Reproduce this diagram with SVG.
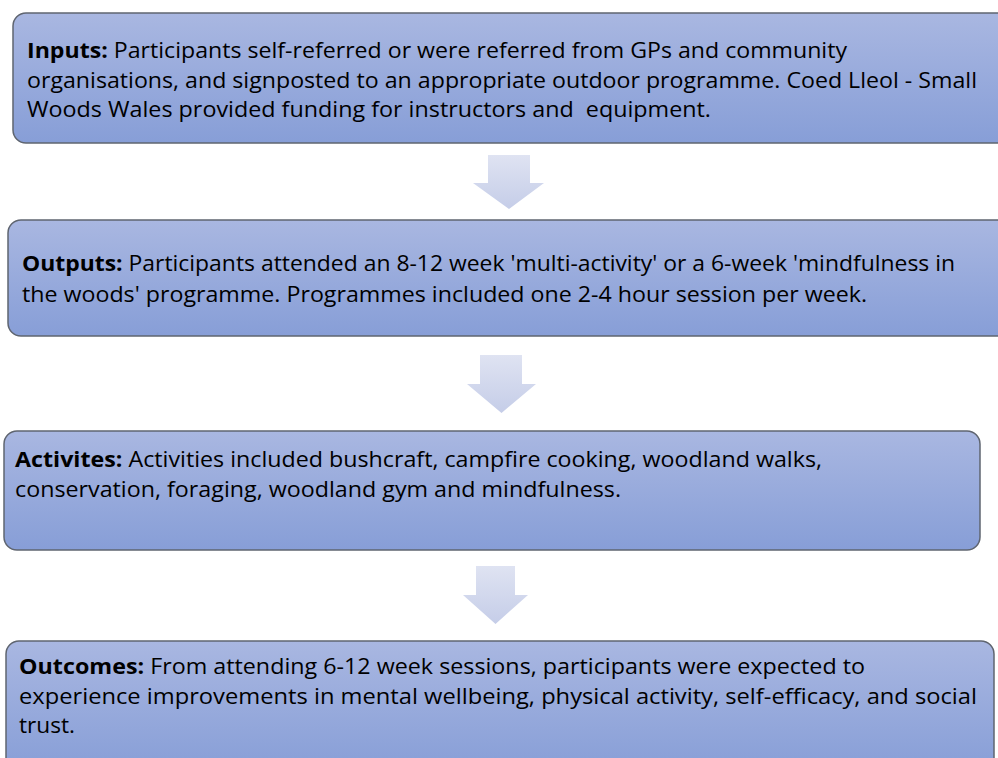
<svg xmlns="http://www.w3.org/2000/svg" width="998" height="758" viewBox="0 0 998 758">
<defs>
<linearGradient id="boxGrad" x1="0" y1="0" x2="0" y2="1">
<stop offset="0" stop-color="#a9b7e1"/>
<stop offset="1" stop-color="#879ed7"/>
</linearGradient>
<linearGradient id="arrGrad" x1="0" y1="0" x2="0" y2="1">
<stop offset="0" stop-color="#dfe3f2"/>
<stop offset="1" stop-color="#c5cde8"/>
</linearGradient>
</defs>
<style>
.box{fill:url(#boxGrad);stroke:#5f6570;stroke-width:1.5}
.arr{fill:url(#arrGrad);stroke:none}
.t{font-family:"Open Sans","Noto Sans",sans-serif;font-size:22px;fill:#000}
.b{font-weight:bold}
</style>
<rect width="998" height="758" fill="#ffffff"/>
<g id="connectors">
<path class="arr" d="M488,155 H530 V183 H544 L509,209 L473,183 H488 Z"/>
<path class="arr" d="M480,355 H522 V384 H536 L501.5,413 L467,384 H480 Z"/>
<path class="arr" d="M476,566 H515 V595 H528 L495.5,624 L463,595 H476 Z"/>
</g>
<g id="inputs">
<rect class="box" x="13" y="13" width="1000" height="130" rx="13"/>
<text class="t" x="27" y="58" textLength="820" lengthAdjust="spacingAndGlyphs"><tspan class="b">Inputs:</tspan> Participants self-referred or were referred from GPs and community</text>
<text class="t" x="27" y="88" textLength="950" lengthAdjust="spacingAndGlyphs">organisations, and signposted to an appropriate outdoor programme. Coed Lleol - Small</text>
<text class="t" x="27" y="117" textLength="684" lengthAdjust="spacingAndGlyphs" xml:space="preserve">Woods Wales provided funding for instructors and  equipment.</text>
</g>
<g id="outputs">
<rect class="box" x="8" y="220" width="1005" height="116" rx="13"/>
<text class="t" x="22" y="271" textLength="933" lengthAdjust="spacingAndGlyphs"><tspan class="b">Outputs:</tspan> Participants attended an 8-12 week 'multi-activity' or a 6-week 'mindfulness in</text>
<text class="t" x="22" y="302" textLength="845" lengthAdjust="spacingAndGlyphs">the woods' programme. Programmes included one 2-4 hour session per week.</text>
</g>
<g id="activities">
<rect class="box" x="4" y="431" width="976" height="119" rx="13"/>
<text class="t" x="15" y="467" textLength="807" lengthAdjust="spacingAndGlyphs"><tspan class="b">Activites:</tspan> Activities included bushcraft, campfire cooking, woodland walks,</text>
<text class="t" x="15" y="497" textLength="606" lengthAdjust="spacingAndGlyphs">conservation, foraging, woodland gym and mindfulness.</text>
</g>
<g id="outcomes">
<rect class="box" x="6" y="641" width="988" height="130" rx="13"/>
<text class="t" x="19" y="674" textLength="846" lengthAdjust="spacingAndGlyphs"><tspan class="b">Outcomes:</tspan> From attending 6-12 week sessions, participants were expected to</text>
<text class="t" x="19" y="704" textLength="958" lengthAdjust="spacingAndGlyphs">experience improvements in mental wellbeing, physical activity, self-efficacy, and social</text>
<text class="t" x="19" y="733" textLength="56" lengthAdjust="spacingAndGlyphs">trust.</text>
</g>
</svg>
